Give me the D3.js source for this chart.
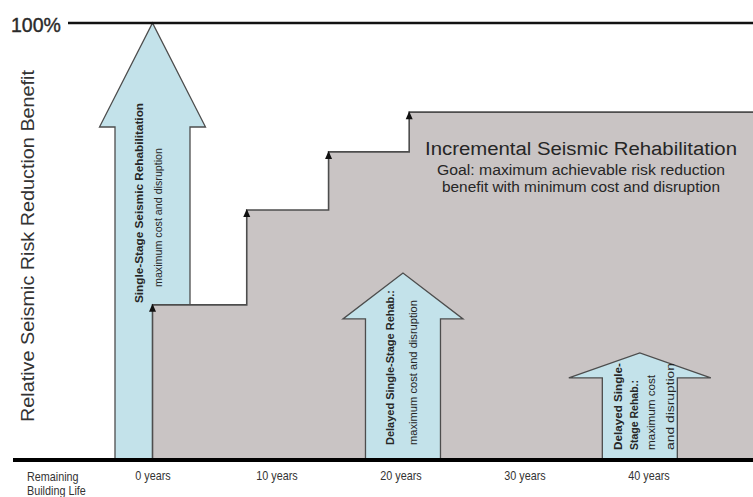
<!DOCTYPE html>
<html><head><meta charset="utf-8">
<script src="https://cdn.jsdelivr.net/npm/d3@7"></script>
<style>
html,body{margin:0;padding:0;background:#fff;}
svg{display:block;}
</style></head>
<body>
<svg id="chart" width="753" height="497"></svg>
<script>
// ---- data ----
const tickYears = [0, 10, 20, 30, 40];
const tickLabels = ["0 years", "10 years", "20 years", "30 years", "40 years"];
const stepYears = [0, 7.6, 14.2, 20.7];          // when each incremental stage is done
const stepBenefit = [35.5, 57.2, 70.5, 79.6];    // cumulative benefit (%) after each stage
const arrowYears = [0, 20.2, 39.3];              // single-stage rehab timing
const arrowBenefit = [100, 42.8, 24.5];          // benefit (%) of single-stage rehab
const arrowBold = [
  ["Single-Stage Seismic Rehabilitation"],
  ["Delayed Single-Stage Rehab.:"],
  ["Delayed Single-", "Stage Rehab.:"]
];
const arrowNormal = [
  ["maximum cost and disruption"],
  ["maximum cost and disruption"],
  ["maximum cost", "and disruption"]
];
const yTitle = "Relative Seismic Risk Reduction Benefit";
const topLabel = "100%";
const incTitle = "Incremental Seismic Rehabilitation";
const incGoal = ["Goal: maximum achievable risk reduction", "benefit with minimum cost and disruption"];
const xTitle = ["Remaining", "Building Life"];

// ---- styles / layout ----
const W = 753, H = 497;
const BLUE = "#c3e2ea", GRAY = "#c9c4c4", LINE = "#4d4d4d", TXT = "#262626";
const SANS = "'Liberation Sans', Arial, sans-serif";
const NARROW_FACTOR = 0.8;
const headH = [104, 46, 25], headHalf = [53, 60, 71], shaftHalf = 37.5;
const labelLayout = [
  {dx: [-14, 5], start: [303, 287], len: [200, 139]},
  {dx: [-13, 10], start: [445, 445], len: [155, 145]},
  {dx: [-22, -6, 11, 30], start: [450, 450, 450, 450], len: [87, 70, 75, 87]}
];

const x = d3.scaleLinear().domain([0, 40]).range([152.5, 648.5]);
const y = d3.scaleLinear().domain([0, 100]).range([460, 23]);

const svg = d3.select("#chart");

function narrow(sel) {
  sel.each(function () {
    const w = this.getComputedTextLength();
    d3.select(this).attr("textLength", w * NARROW_FACTOR).attr("lengthAdjust", "spacingAndGlyphs");
  });
}

function arrowPath(i) {
  const cx = x(arrowYears[i]), tip = y(arrowBenefit[i]), base = tip + headH[i], b = y(0);
  return `M${cx - shaftHalf},${b} L${cx - shaftHalf},${base} L${cx - headHalf[i]},${base} L${cx},${tip} L${cx + headHalf[i]},${base} L${cx + shaftHalf},${base} L${cx + shaftHalf},${b}`;
}
function arrowText(i) {
  const g = svg.append("g");
  const cx = x(arrowYears[i]);
  const lines = arrowBold[i].map(t => ({t, bold: true})).concat(arrowNormal[i].map(t => ({t, bold: false})));
  const L = labelLayout[i];
  lines.forEach((ln, k) => {
    g.append("text")
      .attr("transform", `translate(${cx + L.dx[k]},${L.start[k]}) rotate(-90)`)
      .attr("dominant-baseline", "central")
      .attr("font-family", SANS)
      .attr("font-size", 11)
      .attr("font-weight", ln.bold ? "bold" : "normal")
      .attr("fill", TXT)
      .attr("textLength", L.len[k])
      .attr("lengthAdjust", "spacingAndGlyphs")
      .text(ln.t);
  });
}

// big single-stage arrow (drawn beneath incremental area)
svg.append("path").attr("d", arrowPath(0)).attr("fill", BLUE).attr("stroke", LINE).attr("stroke-width", 1.3);
arrowText(0);

// incremental area
const pts = [[x(stepYears[0]), y(0)]];
stepYears.forEach((s, i) => {
  pts.push([x(s), y(stepBenefit[i])]);
  const nx = i < stepYears.length - 1 ? x(stepYears[i + 1]) : W;
  pts.push([nx, y(stepBenefit[i])]);
});
svg.append("path")
  .attr("d", d3.line()(pts.concat([[W, y(0)]])) + "Z")
  .attr("fill", GRAY).attr("stroke", "none");
svg.append("path")
  .attr("d", d3.line()(pts))
  .attr("fill", "none").attr("stroke", LINE).attr("stroke-width", 1.6);
// small arrowheads on risers
stepYears.forEach((s, i) => {
  const sx = x(s), sy = y(stepBenefit[i]);
  svg.append("path").attr("d", `M${sx - 3.5},${sy + 7} L${sx},${sy - 1} L${sx + 3.5},${sy + 7} Z`).attr("fill", "#111");
});

// delayed arrows
[1, 2].forEach(i => {
  svg.append("path").attr("d", arrowPath(i)).attr("fill", BLUE).attr("stroke", LINE).attr("stroke-width", 1.3);
  arrowText(i);
});

// incremental text
svg.append("text").attr("x", 581).attr("y", 155).attr("text-anchor", "middle")
  .attr("font-family", SANS).attr("font-size", 18).attr("fill", TXT)
  .attr("textLength", 312).attr("lengthAdjust", "spacingAndGlyphs").text(incTitle);
incGoal.forEach((t, k) => {
  svg.append("text").attr("x", 581).attr("y", 175 + k * 17).attr("text-anchor", "middle")
    .attr("font-family", SANS).attr("font-size", 14).attr("fill", TXT)
    .attr("textLength", k === 0 ? 288 : 278).attr("lengthAdjust", "spacingAndGlyphs").text(t);
});

// 100% line
svg.append("line").attr("x1", 68).attr("x2", W).attr("y1", y(100)).attr("y2", y(100))
  .attr("stroke", "#111").attr("stroke-width", 2.5);
svg.append("text").attr("x", 11).attr("y", 32).attr("font-family", SANS).attr("font-size", 19.5)
  .attr("fill", "#2a2a2a").attr("stroke", "#2a2a2a").attr("stroke-width", 0.4).text(topLabel);

// baseline
svg.append("line").attr("x1", 13).attr("x2", W).attr("y1", y(0)).attr("y2", y(0))
  .attr("stroke", "#000").attr("stroke-width", 4);

// x axis labels
const axis = d3.axisBottom(x).tickValues(tickYears).tickSize(0).tickPadding(0)
  .tickFormat((d, i) => tickLabels[i]);
const ax = svg.append("g").attr("transform", `translate(0,${y(0) + 10})`).call(axis);
ax.select(".domain").remove();
ax.selectAll("text").attr("font-family", SANS).attr("font-size", 13.5).attr("fill", "#333").attr("dy", "0.71em")
  .call(narrow);
xTitle.forEach((t, k) => {
  svg.append("text").attr("x", 27).attr("y", 481 + k * 13.5).attr("font-family", SANS)
    .attr("font-size", 13.5).attr("fill", "#333").text(t).call(narrow);
});

// y title
svg.append("text").attr("transform", `translate(34,246) rotate(-90)`).attr("text-anchor", "middle")
  .attr("font-family", SANS).attr("font-size", 19).attr("fill", "#333")
  .attr("textLength", 352).attr("lengthAdjust", "spacingAndGlyphs").text(yTitle);
</script>
</body></html>
